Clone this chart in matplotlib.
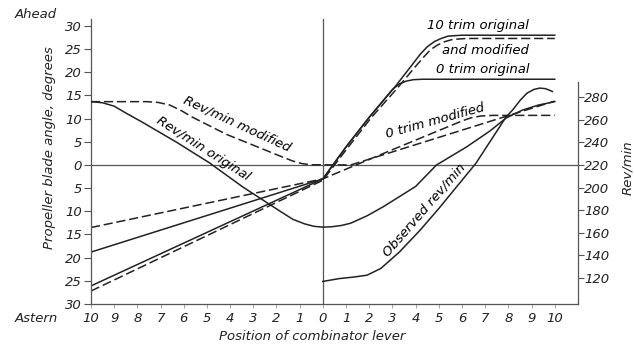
import matplotlib
matplotlib.use("Agg")
import matplotlib.pyplot as plt

# combinator lever position: astern as negative, ahead as positive
lever_ticks = list(range(-10, 11))
angle_ticks = list(range(-30, 31, 5))
rpm_ticks = list(range(120, 281, 20))

# propeller blade angle, degrees
trim10_orig_x = [-10, 0, 1.0, 2.0, 3.1, 3.8, 4.2, 4.5, 4.8, 5.1, 5.4, 6.0, 10.0]
trim10_orig_y = [-26.1, -3.0, 3.9, 10.3, 16.8, 21.3, 23.9, 25.5, 26.6, 27.3, 27.8, 28.0, 28.0]
trim10_mod_x = [-10, 0, 1.1, 2.1, 3.2, 3.95, 4.35, 4.65, 4.95, 5.25, 5.6, 6.2, 10.0]
trim10_mod_y = [-27.2, -3.3, 3.9, 10.3, 16.5, 21.0, 23.3, 24.9, 25.9, 26.6, 27.1, 27.3, 27.3]
trim0_orig_x = [-10, 0, 1.0, 2.0, 3.0, 3.3, 3.6, 3.9, 4.3, 10.0]
trim0_orig_y = [-18.8, -3.0, 3.9, 10.3, 16.3, 17.5, 18.1, 18.4, 18.5, 18.5]
trim0_mod_x = [-10, 0, 3.0, 6.0, 6.4, 6.8, 7.3, 10.0]
trim0_mod_y = [-13.5, -3.0, 3.3, 9.5, 10.2, 10.55, 10.7, 10.7]

# rev/min
rpm_mod_x = [-10, -7.6, -7.1, -6.6, -6.1, -5.6, -4.15, -2.7, -1.8, -1.3, -0.9, -0.5, 1.2, 10.0]
rpm_mod_y = [276, 276, 275.3, 273, 268, 262, 247, 235, 227.5, 223.5, 221.2, 220.2, 220, 276.5]
rpm_orig_x = [-10, -9.5, -9.0, -8.5, -7.8, -6.3, -4.9, -3.45, -2.4, -1.8, -1.3, -0.8,
              -0.4, 0, 0.4, 0.8, 1.2, 1.9, 2.6, 4.0, 4.9, 6.2, 7.2, 7.9, 8.6, 9.3, 10.0]
rpm_orig_y = [276, 275, 272, 266, 258, 240, 222, 200.5, 186.5, 178.5, 172, 168,
              165.8, 165, 165.4, 166.5, 168.5, 175, 183, 201, 220, 236, 250, 261.5, 268.5, 273, 276]
rpm_obs_x = [0, 0.7, 1.3, 1.9, 2.5, 3.3, 4.2, 5.0, 5.9, 6.6, 7.3, 7.9, 8.2, 8.5, 8.8,
             9.1, 9.35, 9.6, 9.9]
rpm_obs_y = [117, 119.5, 120.8, 122.5, 128.5, 143, 162.5, 181.5, 204, 221.5, 243.5,
             262.5, 269, 277, 283.5, 286.8, 288, 287.5, 285]

INK = "#222222"
AXIS = "#555555"
DEG_PER_RPM = 0.244  # both scales share the zero line (0 deg = 220 rev/min)
DASH = (6, 2.5)


def main():
    plt.rcParams["font.family"] = "DejaVu Sans"
    plt.rcParams["font.style"] = "italic"
    plt.rcParams["font.size"] = 9.5

    fig = plt.figure(figsize=(6.34, 3.46), dpi=100)
    ax = fig.add_axes([0.1435, 0.1214, 0.7681, 0.8237])
    ax.set_xlim(-10, 11)
    ax.set_ylim(-30, 31.5)
    ax2 = ax.twinx()
    ax2.set_ylim(220 - 30 / DEG_PER_RPM, 220 + 31.5 / DEG_PER_RPM)

    ax.axhline(0, color=AXIS, lw=0.9, zorder=1)
    ax.axvline(0, color=AXIS, lw=0.9, zorder=1)

    ax.plot(trim10_orig_x, trim10_orig_y, color=INK, lw=1.1)
    ax.plot(trim10_mod_x, trim10_mod_y, color=INK, lw=1.1, dashes=DASH)
    ax.plot(trim0_orig_x, trim0_orig_y, color=INK, lw=1.1)
    ax.plot(trim0_mod_x, trim0_mod_y, color=INK, lw=1.1, dashes=DASH)

    ax2.plot(rpm_mod_x, rpm_mod_y, color=INK, lw=1.1, dashes=DASH)
    ax2.plot(rpm_orig_x, rpm_orig_y, color=INK, lw=1.1)
    ax2.plot(rpm_obs_x, rpm_obs_y, color=INK, lw=1.1)

    # curve labels
    ax.text(-3.72, 8.9, "Rev/min modified", rotation=-24.7, ha="center", va="center",
            rotation_mode="anchor", fontsize=9.5)
    ax.text(-5.17, 3.5, "Rev/min original", rotation=-32.6, ha="center", va="center",
            rotation_mode="anchor", fontsize=9.5)
    ax.text(4.83, 9.5, "0 trim modified", rotation=15.5, ha="center", va="center",
            rotation_mode="anchor", fontsize=9.5)
    ax.text(4.35, -9.7, "Observed rev/min", rotation=49, ha="center", va="center",
            rotation_mode="anchor", fontsize=9.5)
    ax.text(8.9, 30.2, "10 trim original", ha="right", va="center", fontsize=9.5)
    ax.text(8.9, 24.8, "and modified", ha="right", va="center", fontsize=9.5)
    ax.text(8.9, 20.5, "0 trim original", ha="right", va="center", fontsize=9.5)

    # axes and ticks
    ax.set_xticks(lever_ticks)
    ax.set_xticklabels([str(abs(v)) for v in lever_ticks])
    ax.set_yticks(angle_ticks)
    ax.set_yticklabels([str(abs(v)) for v in angle_ticks])
    ax2.set_yticks(rpm_ticks)
    ax2.set_yticklabels([str(v) for v in rpm_ticks])

    ax.tick_params(axis="y", length=5, width=0.8, pad=1.5, color=AXIS, labelcolor=INK)
    ax.tick_params(axis="x", length=3, width=0.6, pad=3, color="#999999", labelcolor=INK)
    ax2.tick_params(axis="y", length=4, width=0.8, pad=0.5, color=AXIS, labelcolor=INK)

    for side in ["top", "right"]:
        ax.spines[side].set_visible(False)
    for side in ["top", "left", "bottom"]:
        ax2.spines[side].set_visible(False)
    for sp in [ax.spines["left"], ax.spines["bottom"], ax2.spines["right"]]:
        sp.set_color(AXIS)
        sp.set_linewidth(0.9)
    ax2.spines["right"].set_bounds(220 - 30 / DEG_PER_RPM, 293)

    fig.text(50 / 634, 1 - 148 / 346, "Propeller blade angle, degrees", rotation=90,
             ha="center", va="center", color=INK)
    fig.text(628 / 634, 1 - 168 / 346, "Rev/min", rotation=90, ha="center",
             va="center", color=INK)
    fig.text(36 / 634, 1 - 14 / 346, "Ahead", ha="center", va="center", color=INK)
    fig.text(36 / 634, 1 - 318 / 346, "Astern", ha="center", va="center", color=INK)
    fig.text(312 / 634, 1 - 337 / 346, "Position of combinator lever", ha="center",
             va="center", color=INK)

    fig.savefig("out.png", dpi=100)


if __name__ == '__main__':
    main()
